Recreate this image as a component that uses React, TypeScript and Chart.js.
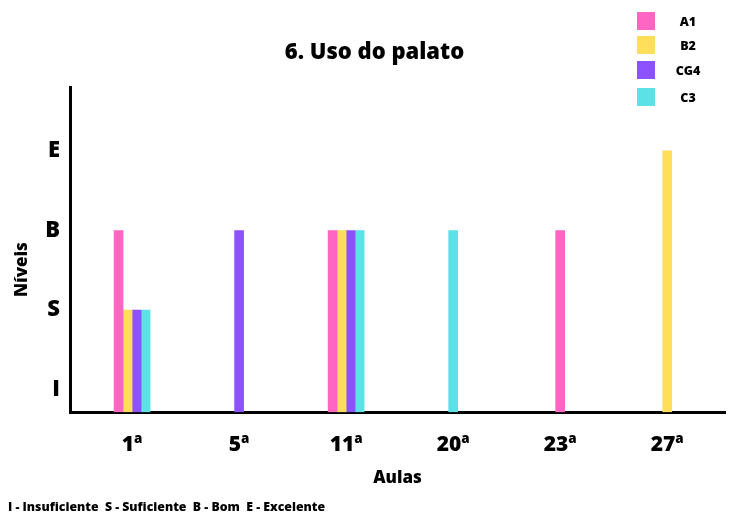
import React, { useEffect, useRef } from "react";
import { Chart, registerables } from "chart.js";

Chart.register(...registerables);

const chartTitle = "6. Uso do palato";
const categories = ["1ª", "5ª", "11ª", "20ª", "23ª", "27ª"];
const levelLabels = ["I", "S", "B", "E"];
const levelValues = [1, 2, 3, 4];
const seriesNames = ["A1", "B2", "CG4", "C3"];
const seriesColors = ["#FF66C4", "#FFDE59", "#8C52FF", "#5CE1E6"];
const a1Values = [3, null, 3, null, 3, null];
const b2Values = [2, null, 3, null, null, 4];
const cg4Values = [2, 3, 3, null, null, null];
const c3Values = [2, null, 3, 3, null, null];
const xAxisTitle = "Aulas";
const yAxisTitle = "Níveis";
const footnote = "I - Insuficiente  S - Suficiente  B - Bom  E - Excelente";

const FONT = "'Open Sans', 'DejaVu Sans', sans-serif";
const Y_MIN = 0.72;
const Y_MAX = 4.8;
const X_START = -0.58;
const X_END = 5.54;

const yTitlePlugin = {
  id: "yTitlePlugin",
  afterDraw(chart: any) {
    const { ctx, chartArea } = chart;
    ctx.save();
    ctx.translate(chartArea.left - 48, (chartArea.top + chartArea.bottom) / 2 + 20);
    ctx.rotate(-Math.PI / 2);
    ctx.font = `800 17px ${FONT}`;
    ctx.fillStyle = "#000";
    ctx.textAlign = "center";
    ctx.textBaseline = "middle";
    ctx.fillText(yAxisTitle, 0, 0);
    ctx.restore();
  },
};

const layoutTweakPlugin = {
  id: "layoutTweakPlugin",
  afterLayout(chart: any) {
    const x = chart.scales.x;
    if (x) {
      x._startValue = X_START;
      x._valueRange = X_END - X_START;
      x._labelItems = null;
    }
    if (chart.titleBlock) {
      chart.titleBlock.left += 16;
    }
  },
};

export default function App() {
  const canvasRef = useRef<HTMLCanvasElement>(null);

  useEffect(() => {
    if (!canvasRef.current) return;
    const allValues = [a1Values, b2Values, cg4Values, c3Values];
    const chart = new Chart(canvasRef.current, {
      type: "bar",
      data: {
        labels: categories,
        datasets: seriesNames.map((name, i) => ({
          label: name,
          data: allValues[i],
          backgroundColor: seriesColors[i],
          borderWidth: 0,
          base: Y_MIN,
        })) as any,
      },
      options: {
        animation: false,
        responsive: true,
        maintainAspectRatio: false,
        skipNull: true,
        barThickness: 9,
        layout: { padding: { left: 8, right: 5, top: 0, bottom: 0 } },
        plugins: {
          legend: { display: false },
          tooltip: { enabled: false },
          title: {
            display: true,
            text: chartTitle,
            color: "#000",
            font: { family: FONT, size: 22, weight: "800" as any },
            padding: { top: 40, bottom: 20.6 },
          },
          subtitle: {
            display: true,
            text: footnote,
            position: "bottom",
            align: "start",
            color: "#000",
            font: { family: FONT, size: 12.3, weight: "800" as any },
            padding: { top: 5, bottom: 1 },
          },
        },
        scales: {
          x: {
            grid: { display: false },
            border: { display: true, color: "#000", width: 3 },
            afterFit: (scale: any) => {
              scale.height = 83;
            },
            ticks: {
              color: "#000",
              padding: 12,
              font: { family: FONT, size: 21, weight: "800" as any },
            },
            title: {
              display: true,
              text: xAxisTitle,
              color: "#000",
              font: { family: FONT, size: 17, weight: "800" as any },
              padding: { top: 10, bottom: 7 },
            },
          },
          y: {
            min: Y_MIN,
            max: Y_MAX,
            grid: { display: false },
            border: { display: true, color: "#000", width: 3 },
            afterBuildTicks: (scale: any) => {
              scale.ticks = levelValues.map((v) => ({ value: v }));
            },
            afterFit: (scale: any) => {
              scale.width = 62;
            },
            ticks: {
              color: "#000",
              padding: 2,
              font: { family: FONT, size: 22, weight: "800" as any },
              callback: (value: any) => {
                const idx = levelValues.indexOf(Number(value));
                return idx >= 0 ? levelLabels[idx] : "";
              },
            },
            title: { display: false },
          },
        },
      } as any,
      plugins: [layoutTweakPlugin, yTitlePlugin],
    });
    return () => chart.destroy();
  }, []);

  return (
    <div style={{ position: "absolute", left: 0, top: 0, width: 730, height: 516, background: "#fff" }}>
      <canvas ref={canvasRef} />
      {seriesNames.map((name, i) => (
        <div
          key={name}
          style={{
            position: "absolute",
            left: 637,
            top: [12, 36, 61, 88][i],
            width: 100,
            height: 18,
            display: "flex",
            alignItems: "center",
          }}
        >
          <div style={{ width: 18, height: 18, background: seriesColors[i] }} />
          <div
            style={{
              position: "absolute",
              left: 51,
              transform: "translateX(-50%)",
              fontFamily: FONT,
              fontWeight: 800,
              fontSize: 12.5,
              color: "#000",
              whiteSpace: "nowrap",
            }}
          >
            {name}
          </div>
        </div>
      ))}
    </div>
  );
}
